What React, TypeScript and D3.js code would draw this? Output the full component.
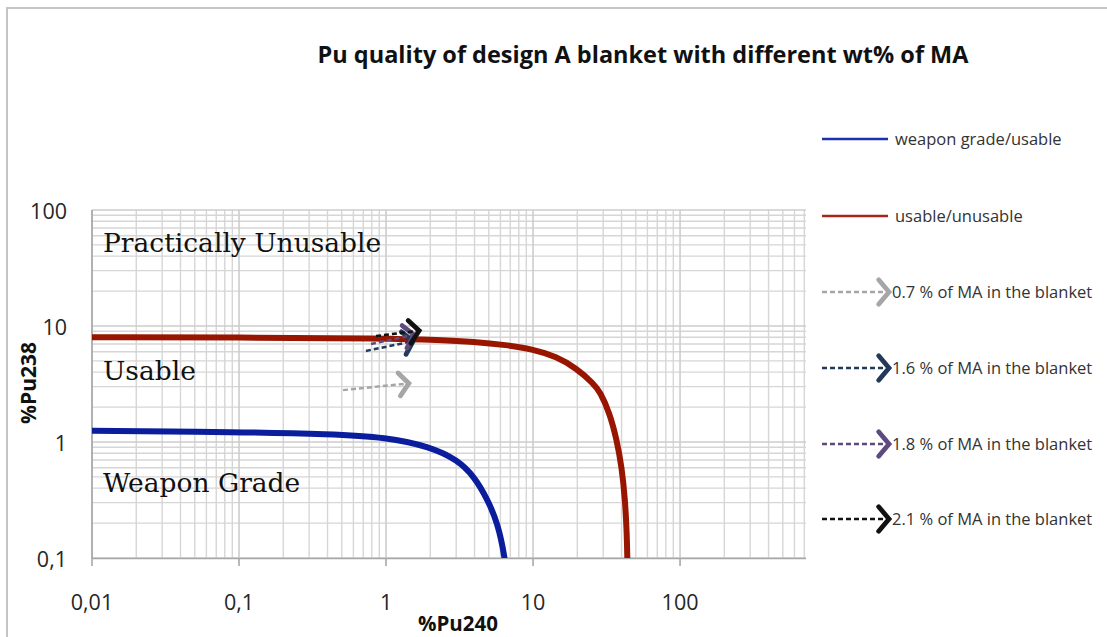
import { useEffect } from "react"
import * as d3 from "d3"

// boundary curves
const weaponX = [0.01, 0.1, 0.42, 1, 2, 3.07, 4, 4.9, 5.75, 6.45, 6.7]
const weaponY = [1.25, 1.22, 1.17, 1.1, 0.91, 0.7, 0.5, 0.32, 0.2, 0.1, 0.06]
const usableX = [0.01, 0.1, 1, 2.33, 3.93, 6.62, 9.8, 14.5, 19.8, 25.7, 28.6, 33.4, 37.1, 40.1, 42.3, 43.4, 43.8, 44.0]
const usableY = [8.0, 7.98, 7.82, 7.57, 7.32, 6.86, 6.34, 5.44, 4.3, 3.2, 2.72, 1.74, 1.04, 0.61, 0.316, 0.164, 0.1, 0.07]

// MA content arrows (tail -> head)
const arrowLabels = ["0.7 % of MA in the blanket", "1.6 % of MA in the blanket", "1.8 % of MA in the blanket", "2.1 % of MA in the blanket"]
const arrowColors = ["#a6a6a6", "#22395a", "#5e4a7e", "#111111"]
const arrowX0 = [0.51, 0.73, 0.79, 0.855]
const arrowY0 = [2.8, 6.1, 7.0, 8.2]
const arrowX1 = [1.43, 1.53, 1.55, 1.68]
const arrowY1 = [3.2, 7.4, 8.4, 9.1]

const xMajor = [0.01, 0.1, 1, 10, 100]
const xTickLabels = ["0,01", "0,1", "1", "10", "100"]
const yMajor = [0.1, 1, 10, 100]
const yTickLabels = ["0,1", "1", "10", "100"]

const regionLabels = ["Practically Unusable", "Usable", "Weapon Grade"]
const regionY = [52, 4.1, 0.44]

const W = 1107
const H = 637
const left = 92
const right = 806
const top = 210
const bottom = 558

const sans = "'Open Sans', sans-serif"

const x = d3.scaleLog().domain([0.01, 719]).range([left, right])
const y = d3.scaleLog().domain([0.1, 100]).range([bottom, top])

const minors = (lo: number, hi: number, max: number) => {
  const out: number[] = []
  for (let e = lo; e <= hi; e++) {
    for (let m = 2; m <= 9; m++) {
      const v = m * Math.pow(10, e)
      if (v < max) out.push(v)
    }
  }
  return out
}

const Chevron = ({ x0, y0, x1, y1, color, size = 15 }: any) => {
  const a = Math.atan2(y1 - y0, x1 - x0)
  const spread = 0.87
  const p1 = [x1 - size * Math.cos(a - spread), y1 - size * Math.sin(a - spread)]
  const p2 = [x1 - size * Math.cos(a + spread), y1 - size * Math.sin(a + spread)]
  return (
    <g>
      <line x1={x0} y1={y0} x2={x1 - 3 * Math.cos(a)} y2={y1 - 3 * Math.sin(a)}
        stroke={color} strokeWidth={2.5} strokeDasharray="5 3" />
      <polyline points={`${p1[0]},${p1[1]} ${x1},${y1} ${p2[0]},${p2[1]}`}
        fill="none" stroke={color} strokeWidth={4.8} strokeLinecap="round" strokeLinejoin="miter" />
    </g>
  )
}

const App = () => {
  useEffect(() => {
    document.body.style.margin = "0"
  }, [])

  const line = d3.line<[number, number]>()
    .x(d => x(d[0]))
    .y(d => y(d[1]))
    .curve(d3.curveBasis)

  const weapon = line(weaponX.map((v, i) => [v, weaponY[i]] as [number, number]))
  const usable = line(usableX.map((v, i) => [v, usableY[i]] as [number, number]))

  const xMinor = minors(-2, 2, 719)
  const yMinor = minors(-1, 1, 100)

  const legendY = [139, 216, 292, 368, 444, 519]

  return (
    <svg width={W} height={H} style={{ display: "block", background: "#fff" }}>
      <defs>
        <clipPath id="plot">
          <rect x={left} y={top} width={right - left} height={bottom - top} />
        </clipPath>
      </defs>
      <rect x={7} y={8} width={W} height={H} fill="none" stroke="#c4c4c4" strokeWidth={2} />

      <text x={643} y={63} textAnchor="middle" fontFamily={sans} fontWeight="bold" fontSize={23.5} fill="#111">
        Pu quality of design A blanket with different wt% of MA
      </text>

      {/* grid */}
      <g stroke="#d6d6d6" strokeWidth={1.4}>
        {xMinor.map(v => <line key={"xm" + v} x1={x(v)} x2={x(v)} y1={top} y2={bottom} />)}
        {yMinor.map(v => <line key={"ym" + v} x1={left} x2={right} y1={y(v)} y2={y(v)} />)}
      </g>
      <g stroke="#cdcdcd" strokeWidth={1.6}>
        {xMajor.map(v => <line key={"xM" + v} x1={x(v)} x2={x(v)} y1={top} y2={bottom} />)}
        {yMajor.map(v => <line key={"yM" + v} x1={left} x2={right} y1={y(v)} y2={y(v)} />)}
      </g>

      {/* axes */}
      <g stroke="#a8a8a8" strokeWidth={1.6}>
        <line x1={left} x2={right} y1={bottom + 0.5} y2={bottom + 0.5} />
        <line x1={left} x2={left} y1={top} y2={bottom + 0.5} />
        {xMajor.map(v => <line key={"xt" + v} x1={x(v)} x2={x(v)} y1={bottom} y2={bottom + 8} />)}
      </g>

      <g fontFamily={sans} fontSize={21.5} fill="#262626">
        {xMajor.map((v, i) => (
          <text key={"xl" + v} x={x(v)} y={610} textAnchor="middle">{xTickLabels[i]}</text>
        ))}
        {yMajor.map((v, i) => (
          <text key={"yl" + v} x={67} y={y(v) + 9} textAnchor="end">{yTickLabels[i]}</text>
        ))}
      </g>

      <text x={458} y={631} textAnchor="middle" fontFamily={sans} fontWeight="bold" fontSize={20.5} fill="#111">%Pu240</text>
      <text transform="translate(36,383) rotate(-90)" textAnchor="middle" fontFamily={sans} fontWeight="bold" fontSize={21} fill="#111">%Pu238</text>

      {/* region labels */}
      <g fontFamily="'DejaVu Serif', serif" fontSize={26.5} fill="#111">
        {regionLabels.map((t, i) => (
          <text key={t} x={103} y={y(regionY[i]) + 9}>{t}</text>
        ))}
      </g>

      {/* curves */}
      <g clipPath="url(#plot)" fill="none">
        <path d={weapon ?? ""} stroke="#0a1d9c" strokeWidth={6} />
        <path d={usable ?? ""} stroke="#981600" strokeWidth={6} />
      </g>

      {/* arrows */}
      {arrowLabels.map((t, i) => (
        <Chevron key={t} x0={x(arrowX0[i])} y0={y(arrowY0[i])} x1={x(arrowX1[i])} y1={y(arrowY1[i])} color={arrowColors[i]} />
      ))}

      {/* legend */}
      <g fontFamily={sans} fontSize={16.5} fill="#333">
        <line x1={822} x2={888} y1={legendY[0]} y2={legendY[0]} stroke="#1c2fae" strokeWidth={2.5} />
        <text x={895} y={legendY[0] + 6}>weapon grade/usable</text>
        <line x1={822} x2={888} y1={legendY[1]} y2={legendY[1]} stroke="#a6261a" strokeWidth={2.5} />
        <text x={895} y={legendY[1] + 6}>usable/unusable</text>
        {arrowLabels.map((t, i) => (
          <g key={"lg" + t}>
            <Chevron x0={822} y0={legendY[i + 2]} x1={889} y1={legendY[i + 2]} color={arrowColors[i]} size={16} />
            <text x={892} y={legendY[i + 2] + 6}>{t}</text>
          </g>
        ))}
      </g>
    </svg>
  )
}

export default App
